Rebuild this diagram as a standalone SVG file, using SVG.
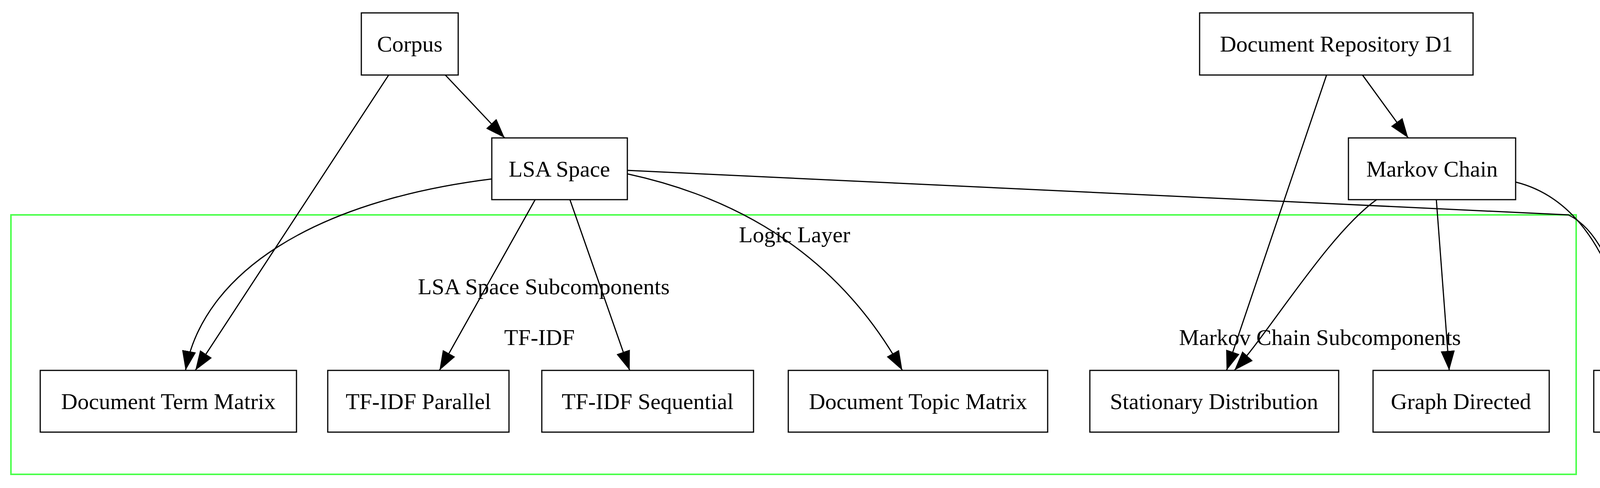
<svg xmlns="http://www.w3.org/2000/svg" width="4357" height="1249" viewBox="0 0 4357 1249">
<style>
.n{fill:#fff;stroke:#000;stroke-width:3}
.t{font-family:"Liberation Serif",serif;font-size:58px;text-anchor:middle;fill:#000}
.e{fill:none;stroke:#000;stroke-width:3}
</style>
<defs><marker id="a" markerUnits="userSpaceOnUse" markerWidth="52" markerHeight="36" refX="50" refY="18" orient="auto"><path d="M0,0 L50,18 L0,36 Z" fill="#000"/></marker></defs>
<rect width="4357" height="1249" fill="#fff"/>
<g id="cluster"><rect x="28" y="550" width="4007" height="664" fill="none" stroke="#4cff4c" stroke-width="4"/>
<text class="t" x="2034" y="620">Logic Layer</text>
<text class="t" x="1392" y="753">LSA Space Subcomponents</text>
<text class="t" x="1381" y="883">TF-IDF</text>
<text class="t" x="3379" y="883">Markov Chain Subcomponents</text></g>
<g id="edges">
<path class="e" marker-end="url(#a)" d="M995,192 L500,948"/>
<path class="e" marker-end="url(#a)" d="M1140,192 L1292,353"/>
<path class="e" marker-end="url(#a)" d="M1259,458 C800,515 520,700 475,948"/>
<path class="e" marker-end="url(#a)" d="M1370,511 L1125,948"/>
<path class="e" marker-end="url(#a)" d="M1459,511 L1612,948"/>
<path class="e" marker-end="url(#a)" d="M1606,445 C2000,530 2200,750 2310,948"/>
<path class="e" marker-end="url(#a)" d="M1606,436 L4015,550 C4120,600 4170,800 4182,948"/>
<path class="e" marker-end="url(#a)" d="M3396,192 L3140,948"/>
<path class="e" marker-end="url(#a)" d="M3488,192 L3605,353"/>
<path class="e" marker-end="url(#a)" d="M3524,511 C3400,600 3250,850 3160,948"/>
<path class="e" marker-end="url(#a)" d="M3677,511 L3710,948"/>
<path class="e" marker-end="url(#a)" d="M3880,466 C4100,520 4170,800 4178,948"/>
</g>
<g id="corpus"><rect class="n" x="925" y="33" width="248" height="159"/><text class="t" x="1049" y="132">Corpus</text></g>
<g id="lsa"><rect class="n" x="1259" y="353" width="347" height="158"/><text class="t" x="1432" y="452">LSA Space</text></g>
<g id="repo"><rect class="n" x="3071" y="33" width="700" height="159"/><text class="t" x="3421" y="132">Document Repository D1</text></g>
<g id="markov"><rect class="n" x="3452" y="353" width="428" height="158"/><text class="t" x="3666" y="452">Markov Chain</text></g>
<g id="dtm"><rect class="n" x="103" y="948" width="656" height="158"/><text class="t" x="431" y="1047">Document Term Matrix</text></g>
<g id="tfp"><rect class="n" x="839" y="948" width="464" height="158"/><text class="t" x="1071" y="1047">TF-IDF Parallel</text></g>
<g id="tfs"><rect class="n" x="1387" y="948" width="542" height="158"/><text class="t" x="1658" y="1047">TF-IDF Sequential</text></g>
<g id="dtop"><rect class="n" x="2018" y="948" width="664" height="158"/><text class="t" x="2350" y="1047">Document Topic Matrix</text></g>
<g id="stat"><rect class="n" x="2790" y="948" width="637" height="158"/><text class="t" x="3108" y="1047">Stationary Distribution</text></g>
<g id="graph"><rect class="n" x="3515" y="948" width="451" height="158"/><text class="t" x="3740" y="1047">Graph Directed</text></g>
<g id="rag"><rect class="n" x="4080" y="948" width="236" height="158"/><text class="t" x="4198" y="1047">RAG</text></g>
</svg>
